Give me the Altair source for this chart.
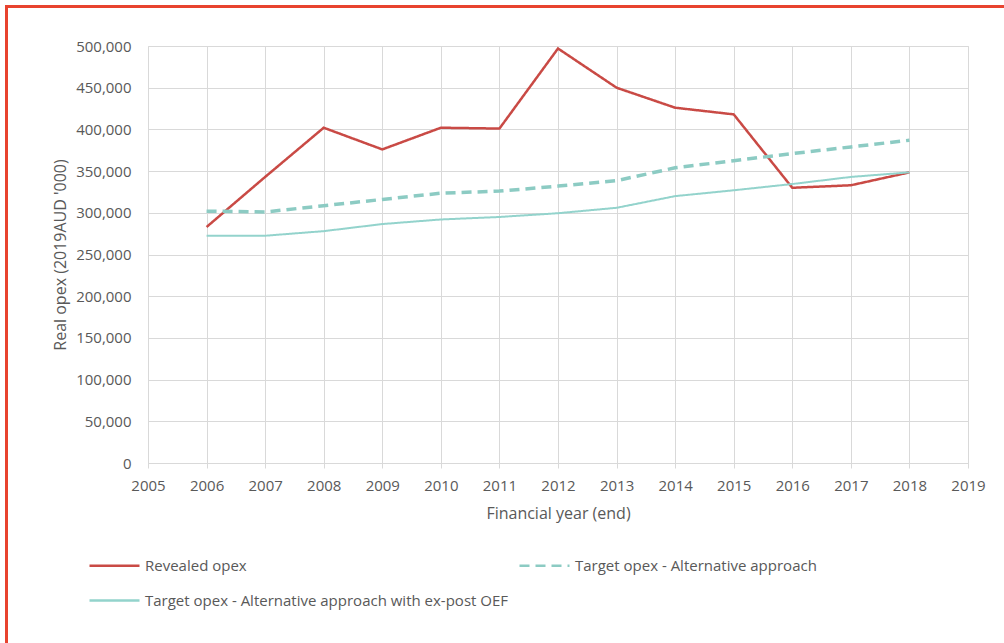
import altair as alt
import pandas as pd

years = list(range(2006, 2019))
revealed = [283000, 343000, 402000, 376000, 402000, 401000, 497000, 450000, 426000, 418000, 330000, 333000, 348500]
target_alt = [302000, 301000, 308500, 316000, 323500, 326000, 332000, 338500, 354000, 362500, 371000, 379000, 387000]
target_expost = [272500, 272500, 278000, 286500, 292000, 295000, 299500, 306000, 320000, 327000, 334500, 343000, 348500]

# legend order (Vega fills the 2-column legend column by column)
series_names = [
    "Revealed opex",
    "Target opex - Alternative approach with ex-post OEF",
    "Target opex - Alternative approach",
]
series_values = [revealed, target_expost, target_alt]
colors = ["#c94a45", "#93d3cc", "#8ccbc3"]
dashes = [[1, 0], [1, 0], [10, 6]]
widths = [2.5, 2, 3.5]

rows = []
for name, vals in zip(series_names, series_values):
    for y, v in zip(years, vals):
        rows.append({"year": y, "value": v, "series": name})
df = pd.DataFrame(rows)

font = "Open Sans"
grid_color = "#d9d9d9"
text_color = "#595959"

legend_cfg = dict(title=None, orient="none", legendX=-60, legendY=493,
                  columns=2, columnPadding=5, rowPadding=-20,
                  symbolType="stroke", symbolSize=2500,
                  symbolStrokeWidth=2.5, labelFontSize=15,
                  labelFont=font, labelColor=text_color,
                  labelLimit=600, labelOffset=4)

x_enc = alt.X("year:Q",
              scale=alt.Scale(domain=[2005, 2019], nice=False, zero=False),
              axis=alt.Axis(values=list(range(2005, 2020)), format="d",
                            title="Financial year (end)", grid=True,
                            gridColor=grid_color, domainColor=grid_color,
                            tickColor=grid_color, tickSize=5,
                            labelPadding=10, titlePadding=12, labelFlush=False,
                            labelFontSize=15, titleFontSize=16,
                            labelColor=text_color, titleColor=text_color,
                            labelFont=font, titleFont=font, titleFontWeight="normal"))
y_enc = alt.Y("value:Q",
              scale=alt.Scale(domain=[0, 500000], nice=False),
              axis=alt.Axis(values=list(range(0, 500001, 50000)), format=",.0f",
                            title="Real opex (2019AUD '000)", grid=True,
                            gridColor=grid_color, domain=False, ticks=False,
                            labelPadding=17, titlePadding=7, labelFlush=False,
                            labelFontSize=15, titleFontSize=16,
                            labelColor=text_color, titleColor=text_color,
                            labelFont=font, titleFont=font, titleFontWeight="normal"))
color_enc = alt.Color("series:N", scale=alt.Scale(domain=series_names, range=colors),
                      legend=alt.Legend(**legend_cfg))
dash_enc = alt.StrokeDash("series:N", scale=alt.Scale(domain=series_names, range=dashes),
                          legend=alt.Legend(**legend_cfg))

layers = []
for name, w in zip(series_names, widths):
    layers.append(
        alt.Chart(df).transform_filter(alt.datum.series == name)
        .mark_line(strokeWidth=w)
        .encode(x=x_enc, y=y_enc, color=color_enc, strokeDash=dash_enc)
    )

deco = pd.DataFrame({"k": [0]})
border_top = alt.Chart(deco).mark_rule(color="#e8432f", strokeWidth=3).encode(
    x=alt.value(-143), x2=alt.value(860), y=alt.value(-39.5))
border_left = alt.Chart(deco).mark_rule(color="#e8432f", strokeWidth=3).encode(
    x=alt.value(-141.5), y=alt.value(-41), y2=alt.value(600))

chart = alt.layer(*layers, border_top, border_left).properties(
    width=820, height=417,
    autosize=alt.AutoSizeParams(type="none"),
    padding={"left": 148, "top": 46, "right": 36, "bottom": 180},
).configure_view(stroke=None).configure(background="white")

chart.save("out.html", embed_options={"renderer": "svg", "actions": False})
